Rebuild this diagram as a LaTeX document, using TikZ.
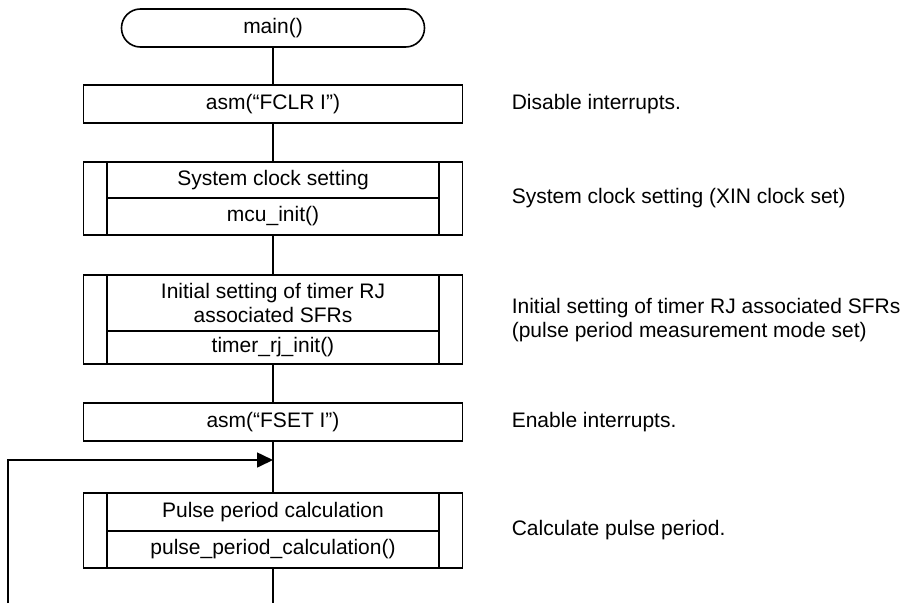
\documentclass[tikz,border=0pt]{standalone}
\usepackage{fontspec}
\setmainfont{Liberation Sans}
\usetikzlibrary{positioning,arrows.meta}
\newcommand{\subbox}[2]{%
	\def\bw{23.5pt} % width of the side bars of a predefined process
	\draw ([xshift=-\bw]#1.north west) rectangle ([xshift=\bw]#2.south east);
}

\begin{document}
\begin{tikzpicture}[x=1pt, y=-1pt, line width=1.6pt, font=\fontsize{21}{24}\selectfont,
	term/.style={draw, rounded corners=18.9pt, minimum width=303pt, minimum height=38pt, inner sep=0pt},
	wide/.style={draw, minimum width=379pt, inner sep=0pt, outer sep=0pt},
	cell/.style={draw, minimum width=332pt, inner sep=0pt, outer sep=0pt, align=center},
	note/.style={anchor=west, align=left, inner sep=0pt}]
	\useasboundingbox (0,0) rectangle (909,603);
	
	%--- flow boxes (x centre 273) ---
	\node[term] (main) at (273,28) {main()};
	\node[wide, minimum height=38pt] (fclr) at (273,104) {asm(“FCLR I”)};
	% system clock setting
	\node[cell, minimum height=36pt] (clkT) at (273,180) {System clock setting};
	\node[cell, minimum height=37pt, below=0pt of clkT] (clkB) {mcu\_init()};
	\subbox{clkT}{clkB}
	% timer RJ setting
	\node[cell, minimum height=56pt] (rjT) at (273,303) {Initial setting of timer RJ\\associated SFRs};
	\node[cell, minimum height=33pt, below=0pt of rjT] (rjB) {timer\_rj\_init()};
	\subbox{rjT}{rjB}
	\node[wide, minimum height=38pt] (fset) at (273,422) {asm(“FSET I”)};
	% pulse period calculation
	\node[cell, minimum height=38pt] (pulT) at (273,512) {Pulse period calculation};
	\node[cell, minimum height=37pt, below=0pt of pulT] (pulB) {pulse\_period\_calculation()};
	\subbox{pulT}{pulB}
	
	%--- comments on the right ---
	\node[note] (cmtFclr) at (511,104) {Disable interrupts.};
	\node[note] (cmtClk) at (511,198.5) {System clock setting (XIN clock set)};
	\node[note] (cmtRj) at (511,320) {Initial setting of timer RJ associated SFRs\\(pulse period measurement mode set)};
	\node[note] (cmtFset) at (511,422) {Enable interrupts.};
	\node[note] (cmtPul) at (511,530.5) {Calculate pulse period.};
	
	%--- connectors ---
	\coordinate (merge) at (273,460);
	\coordinate (loopin) at (8,603);
	\coordinate (tail) at (273,603);
	\draw (main.south) -- (fclr.north);
	\draw (fclr.south) -- (clkT.north);
	\draw (clkB.south) -- (rjT.north);
	\draw (rjB.south) -- (fset.north);
	\draw (fset.south) -- (pulT.north);
	\draw (pulB.south) -- (tail);
	% loop back from the end of the main loop
	\draw[-{Triangle[length=16pt,width=15pt]}] (loopin) |- (merge);
\end{tikzpicture}
\end{document}
